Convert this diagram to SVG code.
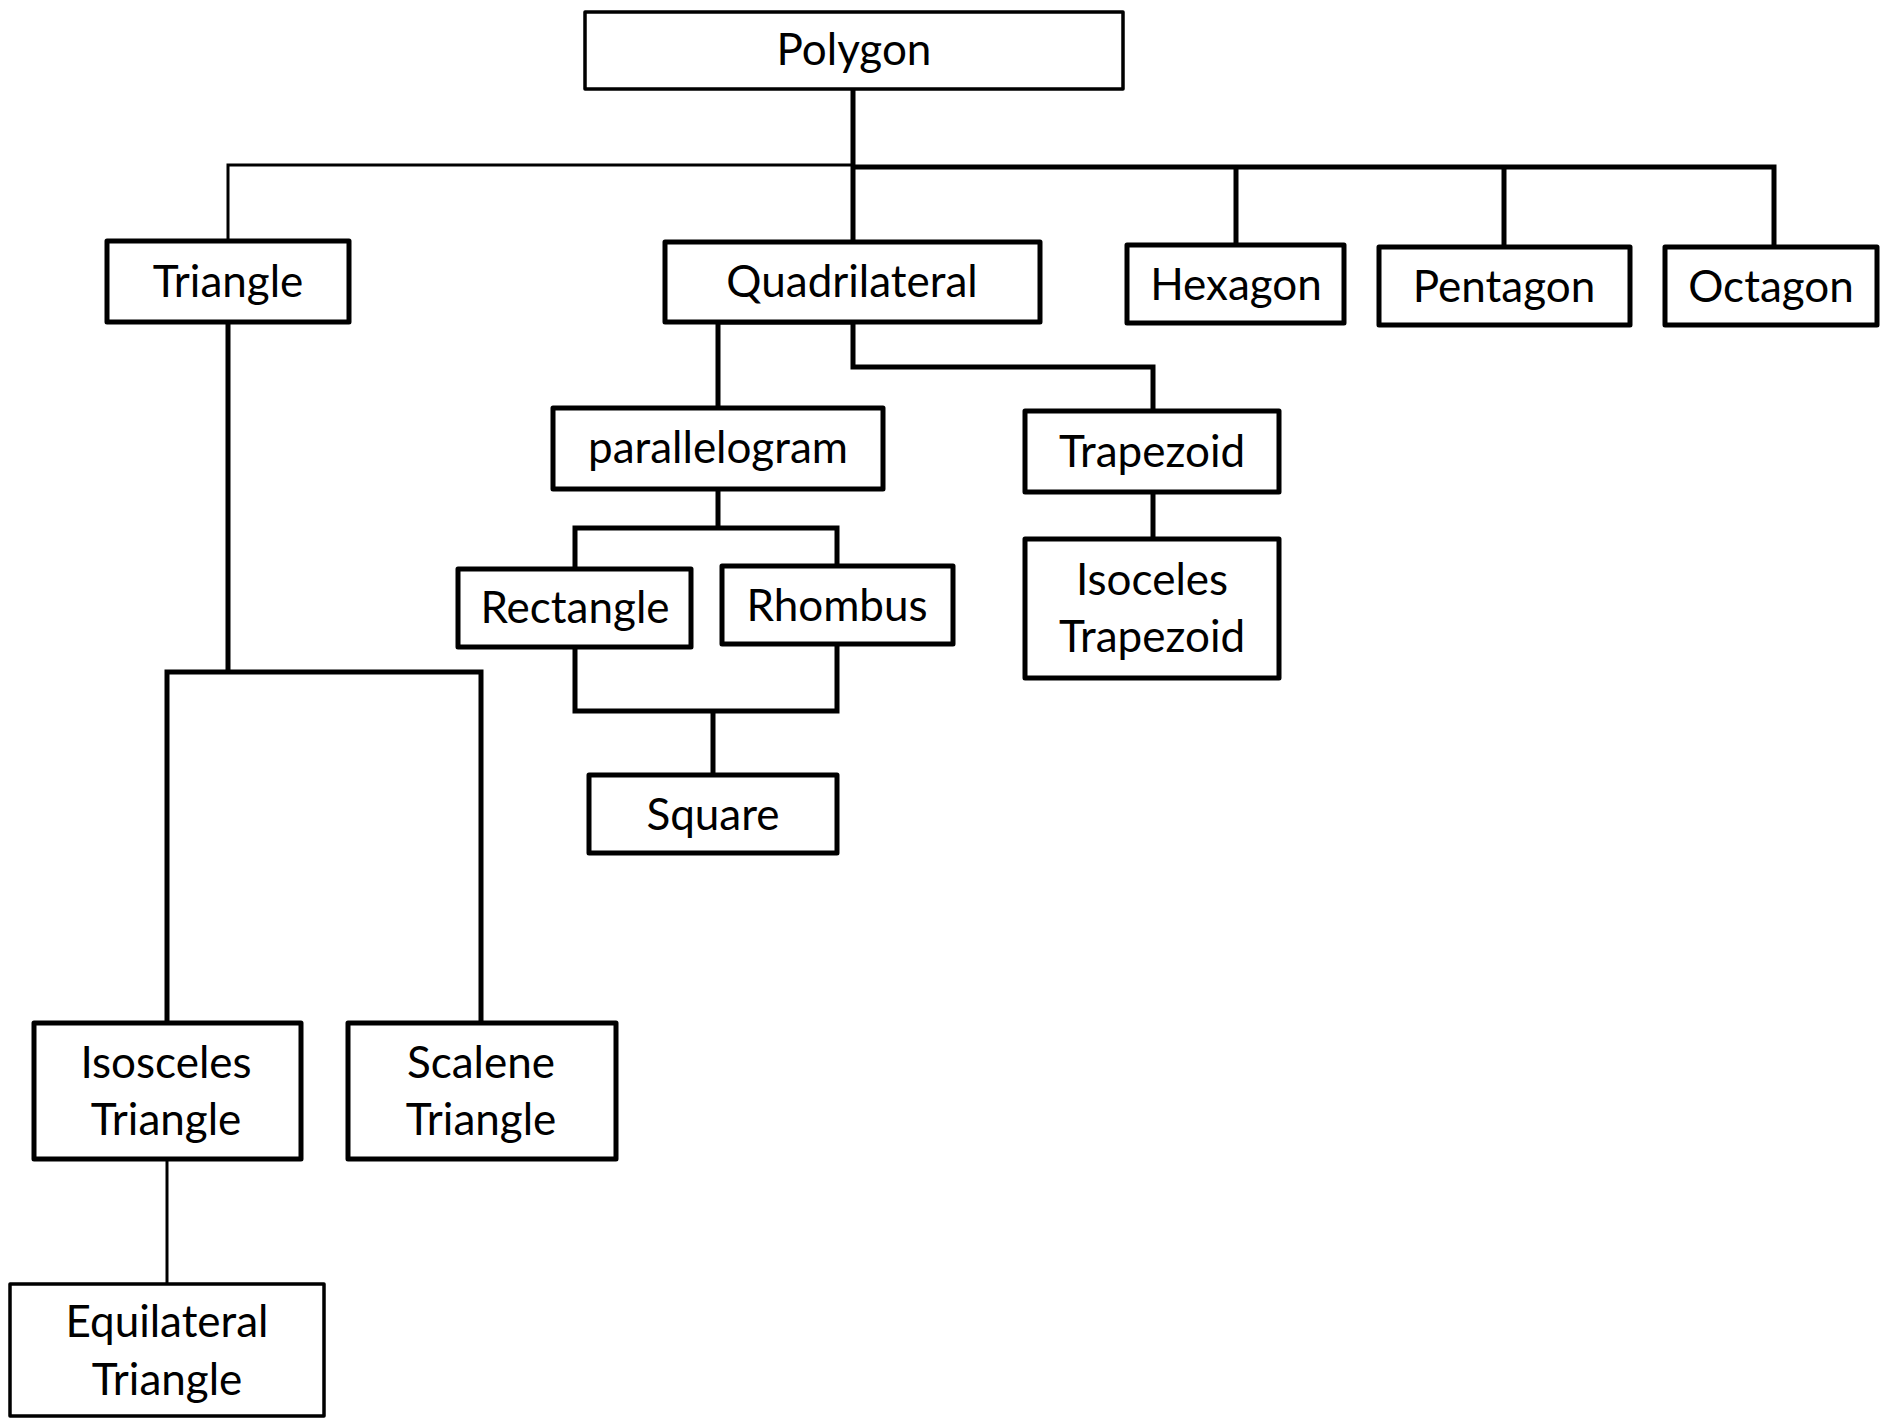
<svg xmlns="http://www.w3.org/2000/svg" width="1880" height="1418" viewBox="0 0 1880 1418">
<style>
.box{fill:#fff;stroke:#000;stroke-width:5;stroke-linejoin:round}
.thin{stroke-width:3.5}
.lbl{font-family:Lato,"Liberation Sans",sans-serif;font-size:44px;fill:#000;text-anchor:middle}
.c{fill:none;stroke:#000;stroke-width:5;stroke-linejoin:miter}
.ct{fill:none;stroke:#000;stroke-width:3}
</style>
<rect width="1880" height="1418" fill="#fff"/>
<g id="connectors">
<path class="c" d="M853,89 V242"/>
<path class="ct" d="M228,241 V165 H853"/>
<path class="c" d="M853,167 H1774 V247"/>
<path class="c" d="M1236,167 V245"/>
<path class="c" d="M1504,167 V247"/>
<path class="c" d="M718,408 V322 H853 V367 H1153 V411"/>
<path class="c" d="M1153,492 V539"/>
<path class="c" d="M718,489 V528"/>
<path class="c" d="M575,569 V528 H837 V566"/>
<path class="c" d="M575,647 V711 H837 V644"/>
<path class="c" d="M713,711 V775"/>
<path class="c" d="M228,322 V672"/>
<path class="c" d="M167,1023 V672 H481 V1023"/>
<path class="ct" d="M167,1159 V1283"/>
</g>
<g id="polygon"><rect class="box thin" x="585" y="12" width="538" height="77"/><text class="lbl" x="854" y="65">Polygon</text></g>
<g id="triangle"><rect class="box" x="107" y="241" width="242" height="81"/><text class="lbl" x="228" y="297">Triangle</text></g>
<g id="quadrilateral"><rect class="box" x="665" y="242" width="375" height="80"/><text class="lbl" x="852" y="297">Quadrilateral</text></g>
<g id="hexagon"><rect class="box" x="1127" y="245" width="217" height="78"/><text class="lbl" x="1236" y="300">Hexagon</text></g>
<g id="pentagon"><rect class="box" x="1379" y="247" width="251" height="78"/><text class="lbl" x="1504" y="302">Pentagon</text></g>
<g id="octagon"><rect class="box" x="1665" y="247" width="212" height="78"/><text class="lbl" x="1771" y="302">Octagon</text></g>
<g id="parallelogram"><rect class="box" x="553" y="408" width="330" height="81"/><text class="lbl" x="718" y="463">parallelogram</text></g>
<g id="trapezoid"><rect class="box" x="1025" y="411" width="254" height="81"/><text class="lbl" x="1152" y="467">Trapezoid</text></g>
<g id="isoceles-trapezoid"><rect class="box" x="1025" y="539" width="254" height="139"/><text class="lbl" x="1152" y="595">Isoceles</text><text class="lbl" x="1152" y="652">Trapezoid</text></g>
<g id="rectangle"><rect class="box" x="458" y="569" width="233" height="78"/><text class="lbl" x="575" y="623">Rectangle</text></g>
<g id="rhombus"><rect class="box" x="722" y="566" width="231" height="78"/><text class="lbl" x="837" y="621">Rhombus</text></g>
<g id="square"><rect class="box" x="589" y="775" width="248" height="78"/><text class="lbl" x="713" y="830">Square</text></g>
<g id="isosceles-triangle"><rect class="box" x="34" y="1023" width="267" height="136"/><text class="lbl" x="166" y="1078">Isosceles</text><text class="lbl" x="166" y="1135">Triangle</text></g>
<g id="scalene-triangle"><rect class="box" x="348" y="1023" width="268" height="136"/><text class="lbl" x="481" y="1078">Scalene</text><text class="lbl" x="481" y="1135">Triangle</text></g>
<g id="equilateral-triangle"><rect class="box thin" x="10" y="1284" width="314" height="132"/><text class="lbl" x="167" y="1337">Equilateral</text><text class="lbl" x="167" y="1395">Triangle</text></g>
</svg>
